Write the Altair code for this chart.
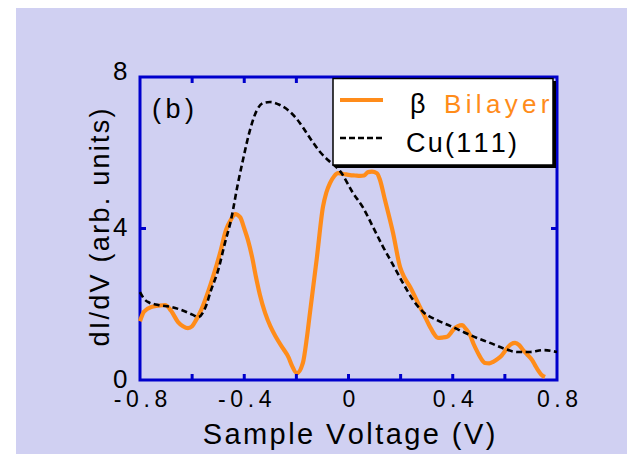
import altair as alt
import pandas as pd

# ---------------- data ----------------
bilayer_v = [-0.8, -0.785, -0.757, -0.73, -0.704, -0.68, -0.654, -0.635, -0.616, -0.6,
             -0.585, -0.565, -0.55, -0.52, -0.493, -0.47, -0.45, -0.435, -0.416, -0.4,
             -0.386, -0.37, -0.355, -0.34, -0.32, -0.3, -0.278, -0.25, -0.23, -0.217,
             -0.198, -0.175, -0.16, -0.148, -0.121, -0.098, -0.085, -0.071, -0.055, -0.04,
             -0.02, 0.006, 0.025, 0.044, 0.06, 0.075, 0.09, 0.109, 0.12, 0.14,
             0.171, 0.198, 0.215, 0.236, 0.255, 0.274, 0.295, 0.313, 0.33, 0.343,
             0.36, 0.378, 0.39, 0.401, 0.42, 0.436, 0.45, 0.466, 0.48, 0.497,
             0.51, 0.524, 0.54, 0.555, 0.575, 0.589, 0.6, 0.612, 0.625, 0.639,
             0.655, 0.67, 0.685, 0.704, 0.715, 0.727, 0.74, 0.754]
bilayer_didv = [1.55, 1.8, 1.93, 1.96, 1.98, 1.82, 1.53, 1.42, 1.37, 1.42,
                1.58, 1.85, 2.11, 2.72, 3.35, 3.96, 4.25, 4.38, 4.30, 4.0,
                3.70, 3.25, 2.72, 2.25, 1.77, 1.42, 1.13, 0.82, 0.6, 0.38,
                0.18, 0.45, 1.1, 1.77, 3.25, 4.57, 4.95, 5.2, 5.38, 5.46,
                5.44, 5.41, 5.4, 5.39, 5.4, 5.49, 5.5, 5.46, 5.3, 4.75,
                3.88, 2.98, 2.7, 2.46, 2.2, 1.93, 1.65, 1.40, 1.2, 1.11,
                1.12, 1.14, 1.22, 1.32, 1.42, 1.45, 1.35, 1.19, 0.95, 0.71,
                0.55, 0.45, 0.44, 0.48, 0.57, 0.66, 0.76, 0.87, 0.95, 0.98,
                0.92, 0.79, 0.68, 0.53, 0.4, 0.26, 0.14, 0.08]

cu_v = [-0.8, -0.785, -0.77, -0.73, -0.68, -0.642, -0.597, -0.577, -0.55, -0.527,
        -0.5, -0.474, -0.451, -0.424, -0.405, -0.378, -0.351, -0.328, -0.301, -0.263,
        -0.224, -0.186, -0.148, -0.109, -0.079, -0.06, -0.033, 0.017, 0.056, 0.094,
        0.133, 0.171, 0.209, 0.248, 0.286, 0.34, 0.39, 0.44, 0.493, 0.543,
        0.593, 0.647, 0.697, 0.746, 0.8]
cu_didv = [2.32, 2.15, 2.06, 1.98, 1.93, 1.85, 1.72, 1.66, 1.90, 2.38,
           2.9, 3.62, 4.22, 5.2, 5.81, 6.6, 7.13, 7.31, 7.34, 7.26,
           7.08, 6.78, 6.39, 6.02, 5.81, 5.70, 5.52, 4.94, 4.55, 4.04,
           3.51, 3.04, 2.56, 2.11, 1.80, 1.58, 1.43, 1.27, 1.11, 0.98,
           0.84, 0.74, 0.74, 0.79, 0.74]

x_tick_labels = [-0.8, -0.4, 0.0, 0.4, 0.8]
y_tick_labels = [0, 4, 8]
minor_ticks_x = [-0.6, -0.4, -0.2, 0.0, 0.2, 0.4, 0.6]
minor_ticks_y = [4]

series_names = ["β Bilayer", "Cu(111)"]

# ---------------- styling ----------------
BLUE = "#0000CC"
ORANGE = "#FF8C1A"
LAV = "#D0D0F2"
FONT = "Liberation Sans"
THIN = "\u2009"
HAIR = "\u200a"


def spaced(s, ch=THIN):
    return ch.join(s)


W, H = 417, 303
PL, PT = 132, 69
PR = 619 - PL - W
PB = 446 - PT - H

df_b = pd.DataFrame({"v": bilayer_v, "g": bilayer_didv})
df_c = pd.DataFrame({"v": cu_v, "g": cu_didv})
one = pd.DataFrame({"a": [0]})

xscale = alt.Scale(domain=[-0.8, 0.8], nice=False, zero=False)
yscale = alt.Scale(domain=[0, 8], nice=False, zero=False)

label_expr = ("join(split(datum.value == 0 ? '0' : ((datum.value < 0 ? '-' : '') + "
              "format(abs(datum.value), '.1f')), ''), '" + THIN + "')")

x_axis = alt.Axis(values=x_tick_labels, title=spaced("Sample Voltage (V)", HAIR),
                  labelExpr=label_expr, ticks=False, domain=False, grid=False,
                  labelFont=FONT, labelFontSize=23, labelPadding=8, labelColor="black",
                  labelFlush=False, labelOverlap=False,
                  titleFont=FONT, titleFontSize=29, titleFontWeight="normal",
                  titleColor="black", titleBaseline="alphabetic", titleY=63)
y_axis = alt.Axis(values=y_tick_labels, title=spaced("dI/dV (arb. units)", HAIR),
                  ticks=False, domain=False, grid=False,
                  labelFont=FONT, labelFontSize=26, labelPadding=13, labelColor="black",
                  labelFlush=False, labelOverlap=False,
                  labelOffset={"condition": {"test": "datum.value == 8", "value": -6},
                               "value": -1},
                  titleFont=FONT, titleFontSize=27, titleFontWeight="normal",
                  titleColor="black", titleAngle=270, titleAlign="center",
                  titleBaseline="alphabetic", titleX=-32, titleY=150)

# white strip at the far left of the page
strip = alt.Chart(one).mark_rect(color="white").encode(
    x=alt.value(-PL), x2=alt.value(-PL + 8), y=alt.value(-PT), y2=alt.value(H + PB))

bil_line = alt.Chart(df_b).mark_line(color=ORANGE, strokeWidth=4.2,
                                      interpolate="monotone").encode(
    x=alt.X("v:Q", scale=xscale, axis=x_axis),
    y=alt.Y("g:Q", scale=yscale, axis=y_axis))

cu_line = alt.Chart(df_c).mark_line(color="black", strokeWidth=2.6, strokeDash=[6, 3.5],
                                     interpolate="monotone").encode(
    x=alt.X("v:Q", scale=xscale),
    y=alt.Y("g:Q", scale=yscale))

# inward ticks
tx = pd.DataFrame({"t": minor_ticks_x})
ty = pd.DataFrame({"t": minor_ticks_y})
tick_bottom = alt.Chart(tx).mark_rule(color=BLUE, strokeWidth=3).encode(
    x=alt.X("t:Q", scale=xscale), y=alt.value(H), y2=alt.value(H - 6))
tick_top = alt.Chart(tx).mark_rule(color=BLUE, strokeWidth=3).encode(
    x=alt.X("t:Q", scale=xscale), y=alt.value(0), y2=alt.value(6))
tick_left = alt.Chart(ty).mark_rule(color=BLUE, strokeWidth=3).encode(
    y=alt.Y("t:Q", scale=yscale), x=alt.value(0), x2=alt.value(6))
tick_right = alt.Chart(ty).mark_rule(color=BLUE, strokeWidth=3).encode(
    y=alt.Y("t:Q", scale=yscale), x=alt.value(W), x2=alt.value(W - 6))

# legend box
shadow = alt.Chart(one).mark_rect(color="black").encode(
    x=alt.value(196), x2=alt.value(416), y=alt.value(4), y2=alt.value(91))
box = alt.Chart(one).mark_rect(fill="white", stroke="black", strokeWidth=1.5).encode(
    x=alt.value(193), x2=alt.value(413), y=alt.value(1.5), y2=alt.value(88))
leg_or = alt.Chart(one).mark_rule(color=ORANGE, strokeWidth=4).encode(
    x=alt.value(200), x2=alt.value(243), y=alt.value(23))
leg_da = alt.Chart(one).mark_rule(color="black", strokeWidth=2.6, strokeDash=[6, 3]).encode(
    x=alt.value(200), x2=alt.value(243), y=alt.value(61))
txt_beta = alt.Chart(one).mark_text(text=series_names[0].split(" ")[0], font=FONT, fontSize=27,
                                    color="black", align="left", baseline="alphabetic").encode(
    x=alt.value(270), y=alt.value(36))
txt_bil = alt.Chart(one).mark_text(text=spaced(series_names[0].split(" ")[1], HAIR + HAIR),
                                   font=FONT, fontSize=26, color=ORANGE, align="left",
                                   baseline="alphabetic").encode(
    x=alt.value(304), y=alt.value(36))
txt_cu = alt.Chart(one).mark_text(text=spaced(series_names[1], HAIR), font=FONT, fontSize=27,
                                  color="black", align="left", baseline="alphabetic").encode(
    x=alt.value(266), y=alt.value(75))
panel = alt.Chart(one).mark_text(text=spaced("(b)", HAIR + HAIR), font=FONT, fontSize=27,
                                 color="black", align="left", baseline="alphabetic").encode(
    x=alt.value(12), y=alt.value(41))

chart = alt.layer(
    strip, bil_line, cu_line,
    tick_bottom, tick_top, tick_left, tick_right,
    shadow, box, leg_or, leg_da, txt_beta, txt_bil, txt_cu, panel
).properties(
    width=W, height=H,
    autosize=alt.AutoSizeParams(type="none"),
    padding={"left": PL, "top": PT, "right": PR, "bottom": PB},
).configure(background=LAV).configure_view(stroke=BLUE, strokeWidth=3)

chart.save("out.html", embed_options={"renderer": "svg", "actions": False})
